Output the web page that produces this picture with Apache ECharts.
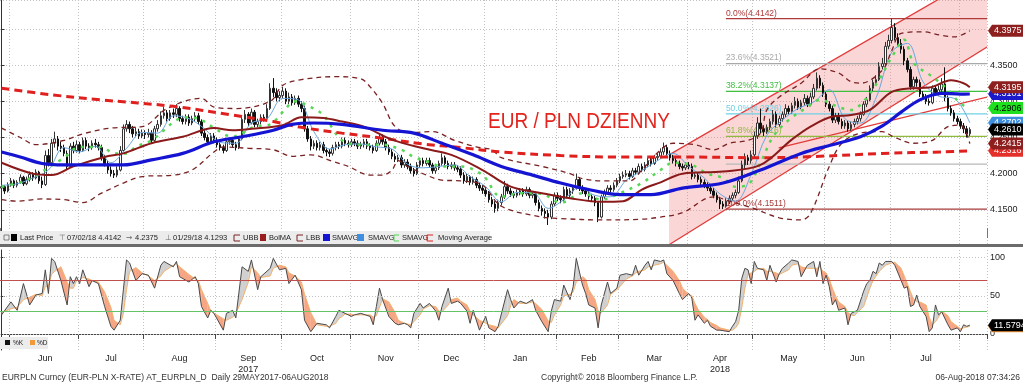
<!DOCTYPE html>
<html><head><meta charset="utf-8">
<script src="https://cdn.jsdelivr.net/npm/echarts@6/dist/echarts.min.js"></script>
<style>html,body{margin:0;padding:0;background:#fff}#c{width:1023px;height:384px}</style>
</head><body><div id="c"></div>
<script>
// ---------- DATA ----------
const START_DATE = [2017, 4, 29];   // 29 May 2017 (UTC month 0-based)
const END_DATE = [2018, 7, 6];      // 06 Aug 2018
const PAD_DAYS = 5;                 // empty weekdays right of the last bar
const PRICE_BASE = 4;
// daily bars [open, close, low, high] in thousandths above 4
const ohlc = [
[180,182,175,186],[182,176,172,184],[176,185,174,188],[185,190,182,194],[190,184,180,192],
[184,188,181,191],[188,195,186,199],[195,186,183,197],[186,192,184,196],[192,199,189,203],
[199,194,190,202],[194,202,192,206],[202,190,186,204],[190,185,180,196],[185,225,183,232],
[225,215,210,234],[215,242,213,248],[242,248,236,258],[248,238,232,252],[238,236,230,244],
[236,228,224,240],[228,210,206,232],[210,238,208,242],[238,232,228,244],[232,240,229,246],
[240,232,228,244],[232,246,230,250],[246,238,234,250],[238,236,231,242],[236,242,233,246],
[242,240,236,248],[240,236,232,244],[236,222,218,240],[222,214,210,226],[214,205,200,218],
[205,200,196,210],[200,198,194,205],[198,205,195,210],[205,232,203,238],[232,262,230,268],
[262,268,258,274],[268,262,256,272],[262,255,250,266],[255,258,251,264],[258,252,248,262],
[252,256,249,261],[256,254,248,260],[254,256,250,262],[256,246,242,260],[246,262,244,266],
[262,268,258,274],[268,280,265,286],[280,284,276,292],[284,276,272,288],[276,284,273,288],
[284,282,277,290],[282,290,278,296],[290,276,272,293],[276,272,268,280],[272,278,268,282],
[278,270,266,282],[270,276,267,280],[276,280,272,285],[280,272,268,284],[272,256,252,275],
[256,250,246,260],[250,244,240,254],[244,252,241,256],[252,246,242,256],[246,240,236,250],
[240,236,232,244],[236,232,228,240],[232,244,230,248],[244,246,240,250],[246,240,236,250],
[240,236,232,244],[236,248,234,252],[248,275,246,280],[275,282,270,288],[282,270,266,285],
[270,285,268,290],[285,268,264,288],[268,272,264,276],[272,278,268,282],[278,276,272,282],
[276,290,274,296],[290,318,288,325],[318,312,306,332],[312,305,300,318],[305,308,300,314],
[308,314,304,320],[314,300,296,318],[300,306,296,312],[306,298,294,310],[298,304,295,308],
[304,296,292,308],[296,290,285,300],[290,262,258,294],[262,248,244,266],[248,238,232,252],
[238,242,234,246],[242,236,232,246],[236,240,232,244],[240,232,228,244],[232,230,224,236],
[230,228,223,234],[228,236,225,240],[236,240,232,244],[240,238,234,244],[238,246,235,250],
[246,242,238,250],[242,240,236,246],[240,244,237,248],[244,242,238,248],[242,238,234,246],
[238,240,234,244],[240,244,236,248],[244,238,234,248],[238,236,232,242],[236,232,228,240],
[232,242,230,246],[242,250,239,254],[250,244,240,254],[244,236,232,248],[236,230,226,240],
[230,224,220,234],[224,220,216,228],[220,222,216,226],[222,212,208,226],[212,216,208,220],
[216,210,206,220],[210,204,200,214],[204,200,196,208],[200,212,198,216],[212,218,208,222],
[218,214,210,222],[214,218,211,222],[218,212,208,222],[212,204,200,215],[204,208,200,212],
[208,214,205,218],[214,222,211,228],[222,214,210,225],[214,210,206,218],[210,212,206,216],
[212,208,204,216],[208,206,202,212],[206,198,194,210],[198,190,186,202],[190,196,187,200],
[196,188,184,198],[188,192,185,196],[192,184,180,195],[184,180,176,188],[180,177,172,184],
[177,172,168,180],[172,164,160,176],[164,158,154,168],[158,152,146,162],[152,160,148,164],
[160,168,156,172],[168,182,165,190],[182,176,172,186],[176,172,168,180],[172,170,166,176],
[170,174,167,178],[174,176,170,180],[176,172,168,180],[172,178,169,182],[178,170,166,181],
[170,172,166,176],[172,160,156,175],[160,152,148,164],[152,148,142,156],[148,145,138,152],
[145,140,129,150],[140,158,137,162],[158,170,155,174],[170,166,162,174],[166,164,159,170],
[164,178,162,182],[178,170,166,182],[170,176,166,180],[176,180,172,184],[180,192,178,200],
[192,180,176,195],[180,176,172,184],[176,172,168,180],[172,168,164,176],[168,166,161,171],
[166,160,155,169],[160,140,133,162],[140,168,138,171],[168,174,165,178],[174,180,171,184],
[180,178,174,184],[178,184,175,188],[184,190,181,194],[190,196,187,200],[196,198,193,203],
[198,200,195,205],[200,196,192,204],[196,204,194,208],[204,202,198,208],[202,210,199,214],
[210,206,202,214],[206,212,203,216],[212,218,209,222],[218,214,210,222],[214,222,212,226],
[222,224,218,228],[224,230,221,235],[230,236,226,243],[236,228,224,240],[228,222,218,232],
[222,218,214,226],[218,214,210,222],[214,210,206,218],[210,208,204,214],[208,212,205,216],
[212,210,206,216],[210,196,192,214],[196,198,193,202],[198,192,188,202],[192,188,184,196],
[188,184,180,192],[184,180,176,188],[180,176,172,184],[176,170,166,180],[170,164,160,174],
[164,158,151,168],[158,155,151,162],[155,162,153,166],[162,166,158,170],[166,170,162,174],
[170,174,166,178],[174,190,172,196],[190,212,188,218],[212,222,206,228],[222,218,212,226],
[218,226,214,232],[226,252,222,258],[252,270,248,278],[270,262,256,290],[262,258,252,266],
[258,264,255,268],[264,272,260,276],[272,282,268,288],[282,268,264,286],[268,276,265,280],
[276,282,272,286],[282,290,278,296],[290,286,282,294],[286,294,283,298],[294,300,290,306],
[300,292,288,304],[292,298,289,302],[298,304,294,310],[304,296,292,308],[296,306,293,312],
[306,318,303,324],[318,332,315,340],[332,322,318,336],[322,310,306,326],[310,296,292,314],
[296,290,286,300],[290,274,270,294],[274,280,270,284],[280,272,268,284],[272,266,262,276],
[266,270,262,274],[270,262,258,274],[262,268,259,272],[268,272,264,276],[272,276,268,280],
[276,282,272,286],[282,296,280,300],[296,302,292,306],[302,318,300,322],[318,326,314,330],
[326,330,322,336],[330,348,328,354],[348,352,344,360],[352,376,350,382],[376,384,372,392],
[384,402,380,414],[402,388,384,408],[388,380,376,394],[380,372,366,386],[372,356,350,376],
[356,344,340,360],[344,320,316,348],[320,330,316,334],[330,326,320,334],[326,310,306,330],
[310,306,302,314],[306,300,296,310],[300,298,294,304],[298,318,296,322],[318,312,308,322],
[312,316,308,322],[316,324,312,332],[324,305,300,347],[305,290,286,308],[290,284,280,294],
[284,276,272,288],[276,272,268,280],[272,266,262,276],[266,262,256,270],[262,255,250,266],
[255,261,252,264]
];
// indicator lines, [day index, value]
const movingAvg = [[0,4.318],[16,4.309],[32,4.302],[55,4.293],[74,4.281],[87,4.272],[96,4.264],[109,4.256],[122,4.249],[135,4.241],[147,4.236],[160,4.230],[179,4.225],[198,4.223],[218,4.223],[243,4.222],[262,4.224],[282,4.228],[301,4.230],[310,4.2316]];
const smaBlue = [[0,4.230],[6,4.223],[13,4.214],[20,4.212],[33,4.212],[39,4.212],[48,4.219],[58,4.228],[68,4.244],[77,4.251],[87,4.260],[93,4.268],[100,4.270],[109,4.268],[122,4.260],[132,4.256],[141,4.242],[151,4.226],[160,4.210],[170,4.198],[179,4.187],[189,4.177],[198,4.171],[208,4.171],[218,4.180],[231,4.187],[243,4.205],[256,4.228],[266,4.240],[275,4.251],[282,4.266],[288,4.285],[294,4.302],[301,4.311],[307,4.310],[310,4.3101]];
const bolMA = [[0,4.215],[10,4.200],[16,4.198],[23,4.210],[33,4.223],[39,4.228],[48,4.242],[58,4.251],[68,4.263],[74,4.260],[80,4.262],[90,4.267],[96,4.278],[103,4.277],[109,4.272],[116,4.265],[125,4.247],[135,4.235],[144,4.226],[154,4.205],[163,4.182],[173,4.173],[182,4.166],[192,4.161],[199,4.162],[205,4.178],[211,4.188],[218,4.200],[231,4.203],[243,4.212],[253,4.247],[259,4.265],[266,4.279],[272,4.281],[278,4.288],[285,4.313],[291,4.318],[297,4.319],[304,4.329],[308,4.325],[310,4.3195]];
const upperBB = [[0,4.263],[6,4.250],[11,4.240],[20,4.246],[26,4.255],[35,4.263],[45,4.265],[53,4.290],[64,4.304],[68,4.292],[75,4.290],[86,4.300],[90,4.322],[96,4.330],[107,4.334],[115,4.331],[118,4.320],[122,4.297],[126,4.265],[131,4.257],[138,4.258],[145,4.246],[152,4.237],[157,4.233],[160,4.222],[173,4.210],[182,4.200],[186,4.193],[193,4.190],[201,4.190],[205,4.205],[211,4.233],[215,4.242],[222,4.240],[228,4.233],[233,4.242],[239,4.246],[243,4.256],[245,4.288],[249,4.306],[256,4.325],[262,4.345],[268,4.339],[272,4.327],[275,4.325],[282,4.343],[285,4.370],[288,4.394],[295,4.396],[301,4.391],[305,4.389],[310,4.3975]];
const lowerBB = [[0,4.164],[5,4.162],[13,4.165],[20,4.164],[26,4.160],[32,4.173],[39,4.187],[45,4.196],[55,4.198],[61,4.205],[68,4.230],[71,4.237],[79,4.235],[87,4.233],[93,4.224],[99,4.226],[106,4.217],[111,4.210],[118,4.198],[122,4.198],[125,4.205],[127,4.218],[130,4.210],[136,4.198],[141,4.191],[147,4.190],[154,4.184],[160,4.155],[173,4.140],[179,4.138],[192,4.136],[205,4.137],[211,4.140],[218,4.146],[228,4.168],[233,4.162],[240,4.153],[249,4.139],[256,4.136],[259,4.145],[265,4.210],[269,4.242],[275,4.256],[282,4.258],[286,4.250],[292,4.242],[298,4.246],[303,4.265],[307,4.267],[310,4.2415]];
const smaGreen = [[0,4.182],[6,4.188],[11,4.198],[20,4.222],[25,4.237],[32,4.237],[36,4.228],[40,4.228],[43,4.237],[48,4.246],[52,4.260],[56,4.274],[60,4.278],[65,4.272],[68,4.263],[74,4.251],[77,4.256],[81,4.265],[86,4.268],[90,4.285],[94,4.300],[99,4.292],[103,4.281],[109,4.246],[115,4.240],[122,4.240],[128,4.233],[132,4.223],[137,4.216],[141,4.210],[147,4.210],[154,4.198],[160,4.168],[166,4.173],[173,4.172],[179,4.160],[186,4.173],[192,4.164],[198,4.173],[205,4.187],[211,4.205],[215,4.215],[221,4.212],[226,4.200],[231,4.194],[235,4.182],[239,4.185],[243,4.215],[247,4.251],[252,4.274],[258,4.292],[262,4.302],[268,4.292],[272,4.288],[276,4.300],[281,4.330],[285,4.361],[289,4.385],[292,4.353],[298,4.334],[303,4.316],[307,4.297],[310,4.2906]];
const smaLightBlue = [[0,4.184],[5,4.186],[10,4.194],[15,4.205],[20,4.236],[25,4.230],[30,4.238],[35,4.215],[40,4.235],[45,4.257],[50,4.256],[55,4.280],[60,4.276],[65,4.262],[70,4.243],[75,4.242],[80,4.270],[85,4.276],[90,4.304],[95,4.302],[100,4.258],[105,4.234],[110,4.240],[115,4.241],[120,4.237],[125,4.234],[130,4.213],[135,4.208],[140,4.210],[145,4.212],[150,4.196],[155,4.182],[160,4.161],[165,4.174],[170,4.174],[175,4.152],[180,4.164],[185,4.181],[190,4.170],[195,4.168],[200,4.191],[205,4.204],[210,4.218],[215,4.228],[220,4.210],[225,4.194],[230,4.172],[235,4.162],[240,4.199],[245,4.253],[250,4.274],[255,4.290],[260,4.299],[265,4.316],[270,4.276],[275,4.270],[280,4.305],[285,4.368],[290,4.380],[295,4.327],[300,4.307],[305,4.304],[310,4.2702]];
// regression channel and a support line, [day index, price]
const channelUpper = [[213.7,4.2259],[315.5,4.4796]];
const channelLower = [[213.7,4.1018],[315.5,4.3749]];
const trendLine = [[248.8,4.2356],[315.5,4.3059]];
// Fibonacci retracement
const fibStartIdx = 231.9;
const fibLabels = ['0.0%','23.6%','38.2%','50.0%','61.8%','76.4%','100.0%'];
const fibValues = [4.4142,4.3521,4.3137,4.2826,4.2516,4.2132,4.1511];
// last-value tags on the price axis (drawn in this order)
const tagValues = [4.2316,4.2415,4.2702,4.2610,4.2906,4.3101,4.3195,4.3975];
// stochastic [day index, %K, %D]
const stochRows = [[0,25,28],[3,42,33],[5,31,35],[7,66,45],[9,38,48],[11,51,52],[13,53,50],[14,84,62],[15,53,63],[16,99,78],[17,95,82],[19,70,88],[21,38,68],[22,75,60],[23,66,60],[24,75,70],[25,66,70],[26,84,74],[28,62,72],[29,70,70],[31,66,68],[33,36,55],[35,10,35],[36,5,18],[38,18,12],[39,58,27],[40,97,58],[41,93,82],[43,70,87],[45,79,80],[47,77,76],[49,60,70],[51,90,76],[52,95,82],[55,88,90],[56,95,92],[57,75,88],[60,68,78],[62,75,72],[63,66,70],[64,36,58],[66,21,40],[67,31,30],[68,27,27],[71,5,20],[72,27,18],[74,31,22],[75,21,27],[77,88,45],[79,82,68],[80,97,88],[82,58,80],[83,75,74],[86,86,76],[87,99,86],[89,84,90],[91,86,88],[92,66,80],[94,77,76],[96,58,68],[97,18,52],[99,3,28],[101,14,12],[104,12,10],[105,8,10],[107,23,14],[108,31,20],[110,27,26],[112,23,26],[113,25,25],[115,27,25],[118,23,25],[119,12,22],[120,36,24],[121,60,35],[122,45,46],[124,23,42],[126,14,28],[127,12,18],[129,14,14],[130,12,13],[131,8,12],[132,27,16],[134,40,25],[135,34,33],[137,40,37],[139,30,36],[140,18,30],[141,36,29],[143,60,38],[144,40,45],[146,43,47],[147,40,43],[149,30,38],[150,14,30],[151,31,25],[153,5,18],[155,23,14],[156,8,12],[158,3,10],[159,10,8],[162,58,24],[163,45,37],[164,34,45],[166,43,40],[168,40,40],[170,45,42],[171,31,40],[173,16,32],[175,3,17],[176,30,15],[177,45,25],[179,43,38],[180,64,50],[182,45,52],[183,62,55],[184,99,68],[186,64,75],[187,53,72],[188,38,58],[190,34,45],[191,8,30],[192,38,28],[194,68,38],[195,53,52],[197,60,58],[198,77,62],[200,79,72],[202,77,76],[203,90,80],[204,77,82],[206,90,84],[207,95,88],[208,84,88],[209,97,90],[211,95,92],[212,97,94],[213,79,90],[215,70,82],[217,53,70],[218,45,60],[220,53,52],[221,47,50],[222,18,40],[223,25,32],[225,14,22],[226,18,19],[227,10,15],[229,5,11],[230,5,8],[233,3,5],[234,10,5],[235,16,8],[236,31,14],[237,73,35],[238,86,60],[239,84,78],[240,66,80],[241,95,82],[242,86,85],[244,84,86],[245,70,82],[246,90,82],[248,68,80],[249,79,78],[250,86,80],[252,93,84],[253,97,90],[255,95,92],[256,75,88],[258,90,86],[260,95,86],[261,75,86],[262,95,88],[263,66,82],[264,77,80],[265,62,72],[266,38,60],[267,45,50],[268,31,42],[270,34,36],[271,12,28],[272,27,25],[273,29,24],[274,31,28],[276,56,36],[277,66,48],[278,70,60],[279,82,70],[280,79,76],[281,93,82],[282,90,86],[283,95,90],[285,95,93],[286,90,94],[288,70,86],[289,60,76],[290,62,66],[291,36,55],[292,38,46],[293,51,42],[294,36,42],[296,23,38],[297,3,22],[298,8,12],[299,38,16],[300,25,22],[301,29,30],[303,12,24],[304,5,16],[306,8,10],[307,3,7],[308,12,8],[309,10,9],[310,11.5794,10]];
const stochBands = [70, 30];
const stochGrid = [0, 50, 100];
const stochTicks = [0, 50, 100];
const stochTagValues = [10, 11.5794];
const MONTHS = ['Jan','Feb','Mar','Apr','May','Jun','Jul','Aug','Sep','Oct','Nov','Dec'];
const yearLabels = [['2017-09','2017'],['2018-04','2018']];

// ---------- STYLES ----------
const FONT = '"Liberation Sans", Arial, sans-serif';
const GRID_COLOR = '#c2c2c2';
const fibColors = ['#b03a3a','#a9a9a9','#3fbf3f','#6fd0e6','#8fba3f','#b8b8b8','#a83a3a'];
const tagFill = ['#e3302b','#8e1f1f','#3f8fe0','#000000','#1fe01f','#1a1acc','#8e1f1f','#8e1f1f'];
const tagText = ['#fff','#fff','#fff','#fff','#000','#fff','#fff','#fff'];
const stochTagFill = ['#f29a3a','#000000'];

// ---------- CATEGORIES ----------
const cats = [];
(function(){
  let t = Date.UTC(START_DATE[0],START_DATE[1],START_DATE[2]);
  const end = Date.UTC(END_DATE[0],END_DATE[1],END_DATE[2]);
  let pad = 0;
  while (t <= end || pad < PAD_DAYS) {
    const d = new Date(t), w = d.getUTCDay();
    if (w !== 0 && w !== 6) { cats.push(d.toISOString().slice(0,10)); if (t > end) pad++; }
    t += 86400000;
  }
})();
const N = cats.length;
const XMAX = N - 0.5;
const monthStarts = [];
for (let i = 1; i < N; i++) if (cats[i].slice(0,7) !== cats[i-1].slice(0,7)) monthStarts.push(i);
const monthStartSet = new Set(monthStarts);
const labelAt = {};
for (let k = 0; k + 1 < monthStarts.length; k++) {
  const s = monthStarts[k], e = monthStarts[k+1];
  const ym = cats[s].slice(0,7);
  let txt = MONTHS[+ym.slice(5,7) - 1];
  yearLabels.forEach(y => { if (y[0] === ym) txt += '\n' + y[1]; });
  labelAt[Math.floor((s + e) / 2)] = txt;
}
const yearStart = monthStarts.find(i => cats[i].slice(5,7) === '01');

const candleData = ohlc.map(r => r.map(v => PRICE_BASE + v / 1000));

// ---------- HELPERS ----------
function lineSeries(data, color, width, type, z, xi, yi) {
  return { type:'line', xAxisIndex: xi === undefined ? 1 : xi, yAxisIndex: yi === undefined ? 0 : yi,
    data, showSymbol:false, smooth:0.35, silent:true, z: z || 4,
    lineStyle:{ color, width, type: type || 'solid' } };
}
function tagRender(values, fills, texts, digitsFn) {
  return function(params, api) {
    const i = params.dataIndex;
    const p = api.coord([api.value(0), api.value(1)]);
    const x = p[0] + 1, y = p[1];
    const txt = digitsFn(values[i]);
    const w = txt.length * 5 + 5;
    return { type:'group', children:[
      { type:'polygon', shape:{ points:[[x,y],[x+4,y-6],[x+4+w,y-6],[x+4+w,y+6],[x+4,y+6]] }, style:{ fill: fills[i] } },
      { type:'text', style:{ text: txt, x: x+6, y: y, fill: texts ? texts[i] : '#fff', font: '9px ' + FONT, verticalAlign:'middle' } }
    ]};
  };
}

// ---------- OPTION ----------
const option = {
  animation:false,
  backgroundColor:'#ffffff',
  grid:[
    { left:-3, right:36, top:0, height:246 },
    { left:-3, right:36, top:250, height:100 }
  ],
  xAxis:[
    { type:'category', gridIndex:0, data:cats, boundaryGap:true,
      axisLine:{show:false}, axisTick:{show:false}, axisLabel:{show:false},
      splitLine:{ show:true, interval:(i)=>monthStartSet.has(i), lineStyle:{ color:GRID_COLOR, type:[1,2] } } },
    { type:'value', gridIndex:0, min:-0.5, max:XMAX, show:false },
    { type:'category', gridIndex:1, data:cats, boundaryGap:true,
      axisLine:{ show:true, lineStyle:{ color:'#444' } },
      axisTick:{ show:true, interval:(i)=>monthStartSet.has(i), length:5, lineStyle:{ color:'#444' } },
      axisLabel:{ show:true, interval:(i)=>labelAt[i] !== undefined, formatter:(v,i)=>labelAt[i] || '',
        fontSize:9, fontFamily:FONT, color:'#222', margin:3, lineHeight:11 },
      splitLine:{ show:true, interval:(i)=>monthStartSet.has(i), lineStyle:{ color:GRID_COLOR, type:[1,2] } } },
    { type:'value', gridIndex:1, min:-0.5, max:XMAX, show:false },
    { type:'category', gridIndex:1, data:cats, boundaryGap:true, offset:12,
      axisLine:{show:false}, axisLabel:{show:false}, splitLine:{show:false},
      axisTick:{ show:true, interval:(i)=>i === yearStart, length:10, lineStyle:{ color:'#777' } } }
  ],
  yAxis:[
    { type:'value', gridIndex:0, position:'right', min:4.1, max:4.44, interval:0.05,
      axisLine:{ show:true, lineStyle:{ color:'#333' } },
      axisTick:{ show:true, length:3, lineStyle:{ color:'#333' } },
      axisLabel:{ formatter:(v)=>v.toFixed(4), fontSize:9, fontFamily:FONT, color:'#222', margin:3, showMinLabel:false, showMaxLabel:false },
      splitLine:{ show:true, lineStyle:{ color:GRID_COLOR, type:[1,2] } } },
    { type:'value', gridIndex:1, position:'right', min:-21, max:110,
      axisLine:{ show:true, lineStyle:{ color:'#333' } },
      axisTick:{ show:true, length:3, customValues:stochTicks, lineStyle:{ color:'#333' } },
      axisLabel:{ customValues:stochTicks, fontSize:9, fontFamily:FONT, color:'#222', margin:3 },
      splitLine:{ show:false } }
  ],
  series:[
    // channel (pink) + lines
    { type:'custom', xAxisIndex:1, yAxisIndex:0, z:1, silent:true, data:[[0,4.2]],
      renderItem(params, api){
        const cs = params.coordSys;
        const u0 = api.coord(channelUpper[0]), u1 = api.coord(channelUpper[1]);
        const l0 = api.coord(channelLower[0]), l1 = api.coord(channelLower[1]);
        const t0 = api.coord(trendLine[0]), t1 = api.coord(trendLine[1]);
        const red = '#e23a3a';
        return { type:'group', clipPath:{ type:'rect', shape:{ x:cs.x, y:cs.y, width:cs.width, height:cs.height } }, children:[
          { type:'polygon', shape:{ points:[l0,u0,u1,l1] }, style:{ fill:'rgba(240,120,120,0.30)' } },
          { type:'line', shape:{ x1:u0[0],y1:u0[1],x2:u1[0],y2:u1[1] }, style:{ stroke:red, lineWidth:1.3 } },
          { type:'line', shape:{ x1:l0[0],y1:l0[1],x2:l1[0],y2:l1[1] }, style:{ stroke:red, lineWidth:1.3 } },
          { type:'line', shape:{ x1:t0[0],y1:t0[1],x2:t1[0],y2:t1[1] }, style:{ stroke:red, lineWidth:1.3 } }
        ]};
      } },
    // Fibonacci
    { type:'custom', xAxisIndex:1, yAxisIndex:0, z:2, silent:true,
      data: fibValues.map(v => [fibStartIdx, v]),
      renderItem(params, api){
        const i = params.dataIndex, v = api.value(1);
        const a = api.coord([fibStartIdx, v]), b = api.coord([XMAX, v]);
        const children = [{ type:'line', shape:{ x1:a[0], y1:a[1], x2:b[0], y2:b[1] }, style:{ stroke:fibColors[i], lineWidth:1.2 } }];
        if (fibLabels[i] !== '76.4%') children.push({ type:'text', style:{ text: fibLabels[i] + '(' + fibValues[i].toFixed(4) + ')',
          x:a[0], y:a[1]-1, fill:fibColors[i], font:'8.5px ' + FONT, verticalAlign:'bottom' } });
        return { type:'group', children };
      } },
    // price bars
    { type:'candlestick', xAxisIndex:0, yAxisIndex:0, data:candleData, barWidth:2, z:3, silent:true,
      itemStyle:{ color:'#ffffff', color0:'#111111', borderColor:'#333333', borderColor0:'#111111', borderWidth:1 } },
    lineSeries(smaLightBlue, '#6aa6dc', 1, 'solid', 4),
    lineSeries(upperBB, '#7a2222', 1.3, [5,4], 4),
    lineSeries(lowerBB, '#7a2222', 1.3, [5,4], 4),
    lineSeries(smaGreen, '#55d655', 2.5, [3,6], 5),
    lineSeries(movingAvg, '#e0201f', 3, [8,5], 5),
    lineSeries(bolMA, '#8b1a1a', 2, 'solid', 6),
    lineSeries(smaBlue, '#1414d2', 3.2, 'solid', 7),
    // price tags
    { type:'custom', xAxisIndex:1, yAxisIndex:0, z:20, silent:true,
      data: tagValues.map(v => [XMAX, v]),
      renderItem: tagRender(tagValues, tagFill, tagText, v => v.toFixed(4)) },
    // stochastic fill
    { type:'custom', xAxisIndex:3, yAxisIndex:1, z:2, silent:true, data: stochRows,
      renderItem(params, api){
        const i = params.dataIndex;
        if (i === 0) return null;
        const p = stochRows[i-1], c = stochRows[i];
        const gray = 'rgba(200,200,200,0.85)', orange = 'rgba(244,150,110,0.85)';
        const K0 = api.coord([p[0],p[1]]), D0 = api.coord([p[0],p[2]]);
        const K1 = api.coord([c[0],c[1]]), D1 = api.coord([c[0],c[2]]);
        const s0 = p[1]-p[2], s1 = c[1]-c[2];
        if (s0 * s1 >= 0) {
          const col = (s0 + s1) >= 0 ? gray : orange;
          return { type:'polygon', shape:{ points:[K0,K1,D1,D0] }, style:{ fill:col } };
        }
        const t = s0 / (s0 - s1);
        const X = api.coord([p[0] + t*(c[0]-p[0]), p[1] + t*(c[1]-p[1])]);
        return { type:'group', children:[
          { type:'polygon', shape:{ points:[K0,X,D0] }, style:{ fill: s0 >= 0 ? gray : orange } },
          { type:'polygon', shape:{ points:[X,K1,D1] }, style:{ fill: s1 >= 0 ? gray : orange } }
        ]};
      } },
    { type:'line', xAxisIndex:3, yAxisIndex:1, data: stochRows.map(r => [r[0], r[2]]), showSymbol:false, silent:true, z:3,
      lineStyle:{ color:'#f2b26e', width:1 } },
    { type:'line', xAxisIndex:3, yAxisIndex:1, data: stochRows.map(r => [r[0], r[1]]), showSymbol:false, silent:true, z:4,
      lineStyle:{ color:'#4a4a4a', width:1 },
      markLine:{ silent:true, symbol:'none', label:{show:false}, animation:false,
        data: stochGrid.map(v => ({ yAxis:v, lineStyle:{ color:GRID_COLOR, type:[1,2], width:1 } }))
          .concat([{ yAxis:stochBands[0], lineStyle:{ color:'#c0504d', type:'solid', width:1 } },
                   { yAxis:stochBands[1], lineStyle:{ color:'#66c266', type:'solid', width:1 } }]) } },
    { type:'custom', xAxisIndex:3, yAxisIndex:1, z:20, silent:true,
      data: stochTagValues.map(v => [XMAX, v]),
      renderItem: tagRender(stochTagValues, stochTagFill, null, v => v.toFixed(4)) }
  ],
  graphic:[
    // top legend strip
    { type:'rect', z:100, shape:{ x:0, y:231, width:490, height:13 }, style:{ fill:'#ececec' } },
    { type:'rect', z:100, shape:{ x:4, y:235, width:5, height:5 }, style:{ fill:'none', stroke:'#666', lineWidth:0.8 } },
    { type:'rect', z:100, shape:{ x:11, y:234, width:6, height:7 }, style:{ fill:'#000' } },
    { type:'text', z:100, style:{ text:'Last Price', x:20, y:238, fill:'#222', font:'7.5px ' + FONT, verticalAlign:'middle' } },
    { type:'text', z:100, style:{ text:'⊤', x:59, y:238, fill:'#666', font:'7.5px "DejaVu Sans"', verticalAlign:'middle' } },
    { type:'text', z:100, style:{ text:'07/02/18 4.4142', x:67, y:238, fill:'#222', font:'7.5px ' + FONT, verticalAlign:'middle' } },
    { type:'text', z:100, style:{ text:'→', x:126, y:238, fill:'#666', font:'7.5px "DejaVu Sans"', verticalAlign:'middle' } },
    { type:'text', z:100, style:{ text:'4.2375', x:135, y:238, fill:'#222', font:'7.5px ' + FONT, verticalAlign:'middle' } },
    { type:'text', z:100, style:{ text:'⊥', x:165, y:238, fill:'#666', font:'7.5px "DejaVu Sans"', verticalAlign:'middle' } },
    { type:'text', z:100, style:{ text:'01/29/18 4.1293', x:173, y:238, fill:'#222', font:'7.5px ' + FONT, verticalAlign:'middle' } },
    { type:'polyline', z:100, shape:{ points:[[240,235],[234,235],[234,241],[240,241]] }, style:{ fill:'none', stroke:'#7a2222', lineWidth:1 } },
    { type:'text', z:100, style:{ text:'UBB', x:243, y:238, fill:'#222', font:'7.5px ' + FONT, verticalAlign:'middle' } },
    { type:'rect', z:100, shape:{ x:260, y:234, width:6, height:7 }, style:{ fill:'#9b1c1c' } },
    { type:'text', z:100, style:{ text:'BolMA', x:269, y:238, fill:'#222', font:'7.5px ' + FONT, verticalAlign:'middle' } },
    { type:'polyline', z:100, shape:{ points:[[303,235],[297,235],[297,241],[303,241]] }, style:{ fill:'none', stroke:'#7a2222', lineWidth:1 } },
    { type:'text', z:100, style:{ text:'LBB', x:306, y:238, fill:'#222', font:'7.5px ' + FONT, verticalAlign:'middle' } },
    { type:'rect', z:100, shape:{ x:323, y:234, width:7, height:7 }, style:{ fill:'#1414d2' } },
    { type:'text', z:100, style:{ text:'SMAVG', x:332, y:238, fill:'#222', font:'7.5px ' + FONT, verticalAlign:'middle' } },
    { type:'rect', z:100, shape:{ x:357, y:234, width:7, height:7 }, style:{ fill:'#3f8fe0' } },
    { type:'text', z:100, style:{ text:'SMAVG', x:368, y:238, fill:'#222', font:'7.5px ' + FONT, verticalAlign:'middle' } },
    { type:'polyline', z:100, shape:{ points:[[399,235],[394,235],[394,241],[399,241]] }, style:{ fill:'none', stroke:'#55d655', lineWidth:1 } },
    { type:'text', z:100, style:{ text:'SMAVG', x:402, y:238, fill:'#222', font:'7.5px ' + FONT, verticalAlign:'middle' } },
    { type:'polyline', z:100, shape:{ points:[[433,235],[427,235],[427,241],[433,241]] }, style:{ fill:'none', stroke:'#e0201f', lineWidth:1 } },
    { type:'text', z:100, style:{ text:'Moving Average', x:438, y:238, fill:'#222', font:'7.5px ' + FONT, verticalAlign:'middle' } },
    // panel separator
    { type:'rect', z:100, shape:{ x:0, y:244, width:1023, height:3 }, style:{ fill:'#6b6b6b' } },
    // stochastic legend
    { type:'rect', z:100, shape:{ x:0, y:337, width:48, height:12 }, style:{ fill:'#ececec' } },
    { type:'rect', z:100, shape:{ x:5, y:340, width:5, height:5 }, style:{ fill:'#111' } },
    { type:'text', z:100, style:{ text:'%K', x:13, y:343, fill:'#222', font:'6.5px ' + FONT, verticalAlign:'middle' } },
    { type:'rect', z:100, shape:{ x:30, y:340, width:5, height:5 }, style:{ fill:'#f29a3a' } },
    { type:'text', z:100, style:{ text:'%D', x:37, y:343, fill:'#222', font:'6.5px ' + FONT, verticalAlign:'middle' } },
    // title (narrow face emulated by horizontal scale)
    { type:'text', z:50, x:488, y:111, scaleX:0.865,
      style:{ text:'EUR / PLN DZIENNY', x:0, y:0, fill:'#e3231c', font:'22px "Liberation Sans", Arial, sans-serif' } },
    // footer
    { type:'text', z:100, style:{ text:'EURPLN Curncy (EUR-PLN X-RATE) AT_EURPLN_D  Daily 29MAY2017-06AUG2018', x:2, y:378, fill:'#333', font:'8.5px ' + FONT, verticalAlign:'middle' } },
    { type:'text', z:100, style:{ text:'Copyright© 2018 Bloomberg Finance L.P.', x:541, y:378, fill:'#333', font:'8.5px ' + FONT, verticalAlign:'middle' } },
    { type:'text', z:100, style:{ text:'06-Aug-2018 07:34:26', x:1020, y:378, fill:'#333', font:'8.5px ' + FONT, verticalAlign:'middle', align:'right' } }
  ]
};
const chart = echarts.init(document.getElementById('c'));
chart.setOption(option);
</script>
</body></html>
